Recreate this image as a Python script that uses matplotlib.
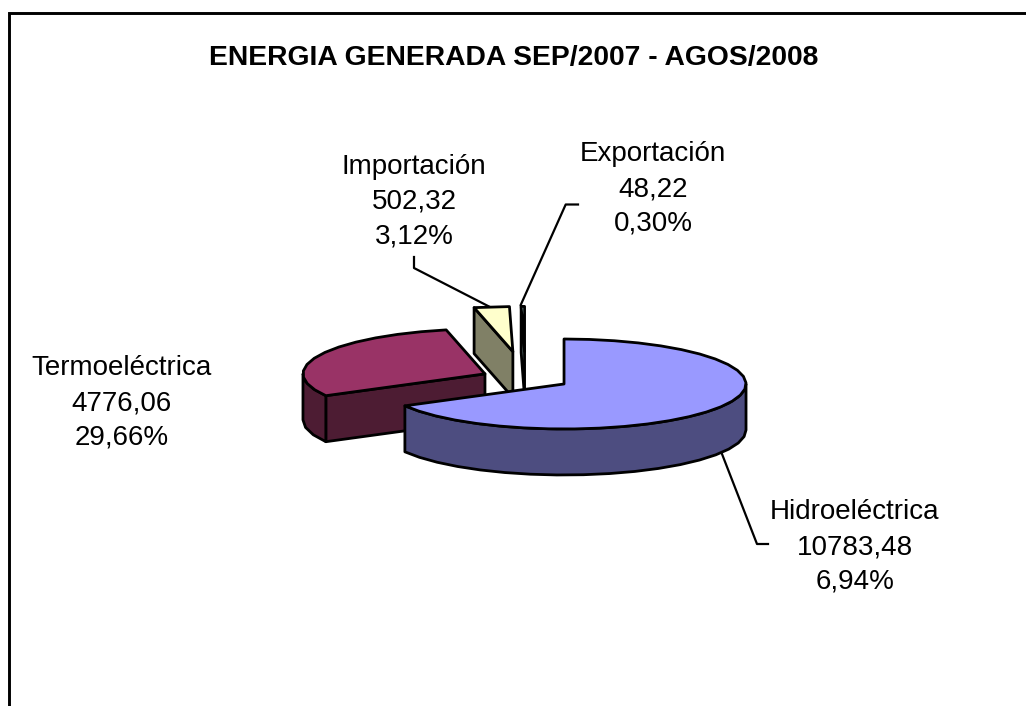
import numpy as np
import matplotlib
matplotlib.use("Agg")
import matplotlib.pyplot as plt
from matplotlib.patches import Polygon

plt.rcParams['font.family'] = ['Liberation Sans', 'DejaVu Sans']

# Data
categories = ['Hidroeléctrica', 'Termoeléctrica', 'Importación', 'Exportación']
energy_values = [10783.48, 4776.06, 502.32, 48.22]
value_labels = ['10783,48', '4776,06', '502,32', '48,22']
percent_labels = ['6,94%', '29,66%', '3,12%', '0,30%']

# Pie layout, in pixels
center_x, center_y = 525.6, 378.4
radius_x, radius_y = 182, 45
depth = 46
explode = [0.245, 0.245, 0.6, 0.6]
top_colours = ['#9999ff', '#993366', '#ffffcc', '#ccffff']
side_colours = ['#4d4d80', '#4d1c33', '#808066', '#667f7f']

label_pos = [(855, 547), (122, 403), (414, 202), (653, 189)]
leaders = [
    [(722, 454), (757, 544), (768, 544)],
    [],
    [(489, 306.5), (414, 268), (414, 257)],
    [(520.7, 305), (565.7, 204.5), (578, 204.5)],
]


def rim(cx, cy, a0, a1, step=8.0):
    # clockwise from 12 o'clock, a bit coarse like the original
    n = max(int(abs(a1 - a0) / step), 1)
    a = np.radians(np.linspace(a0, a1, n + 1))
    return np.column_stack([cx + radius_x * np.sin(a), cy - radius_y * np.cos(a)])


fig = plt.figure(figsize=(10.26, 7.06), dpi=100)
ax = fig.add_axes([0, 0, 1, 1])
ax.set_xlim(0, 1026)
ax.set_ylim(706, 0)
ax.axis('off')

# chart frame, only left and top show in the original
ax.plot([9.3, 9.3, 1026], [706, 12.5, 12.5], color='black', lw=2.1, solid_joinstyle='miter')

total = sum(energy_values)
angles = np.concatenate([[0], np.cumsum(energy_values) / total * 360])

# hydro goes last because it sits in front of the others
for i in [1, 2, 3, 0]:
    a0, a1 = angles[i], angles[i + 1]
    mid = np.radians((a0 + a1) / 2)
    cx = center_x + explode[i] * radius_x * np.sin(mid)
    cy = center_y - explode[i] * radius_y * np.cos(mid)
    edge = rim(cx, cy, a0, a1)
    kw = dict(edgecolor='black', lw=2.0, joinstyle='round')

    # cut face on the far side of the slice
    if i in (1, 2, 3):
        p = edge[0]
        face = [p, (cx, cy), (cx, cy + depth), (p[0], p[1] + depth)]
        ax.add_patch(Polygon(face, facecolor=side_colours[i], **kw))

    # front wall, only the part of the rim facing the viewer
    w0, w1 = max(a0, 90), min(a1, 270)
    if w1 > w0:
        wall = rim(cx, cy, w0, w1)
        lower = wall[::-1] + [0, depth]
        ax.add_patch(Polygon(np.vstack([wall, lower]), facecolor=side_colours[i], **kw))

    ax.add_patch(Polygon(np.vstack([[cx, cy], edge]), facecolor=top_colours[i], **kw))

# labels and leader lines
for i, name in enumerate(categories):
    x, y = label_pos[i]
    txt = name + '\n' + value_labels[i] + '\n' + percent_labels[i]
    ax.text(x, y, txt, ha='center', va='center', fontsize=20, linespacing=1.44, color='black')
    if leaders[i]:
        xs, ys = zip(*leaders[i])
        ax.plot(xs, ys, color='black', lw=1.6)

ax.text(514, 58, 'ENERGIA GENERADA SEP/2007 - AGOS/2008', ha='center', va='center',
        fontsize=20.3, fontweight='bold', color='black')

fig.savefig('out.png', dpi=100)
